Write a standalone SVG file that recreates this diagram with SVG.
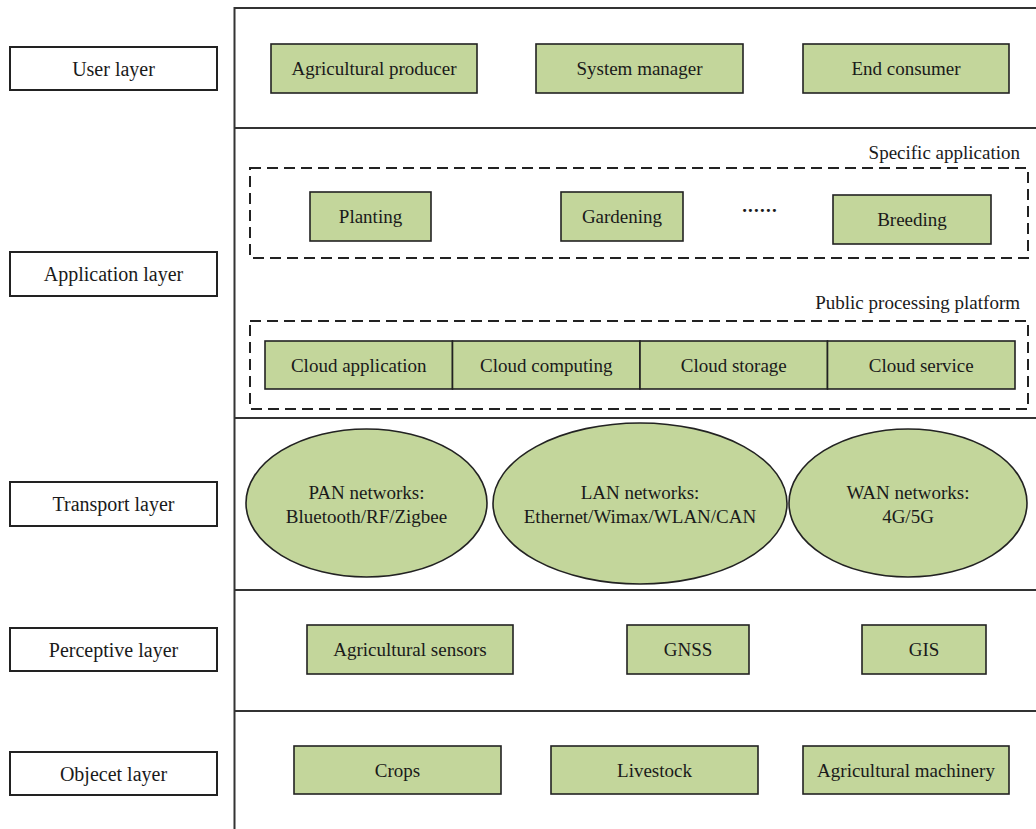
<svg xmlns="http://www.w3.org/2000/svg" width="1036" height="829" viewBox="0 0 1036 829">
<style>
  .t { font-family: "Liberation Serif", "Times New Roman", serif; font-size: 19px; fill: #1a1a1a; text-anchor: middle; }
  .lt { font-family: "Liberation Serif", "Times New Roman", serif; font-size: 20px; fill: #1a1a1a; text-anchor: middle; }
  .rt { font-family: "Liberation Serif", "Times New Roman", serif; font-size: 19px; fill: #1a1a1a; text-anchor: end; }
  .box { fill: #c3d69b; stroke: #222; stroke-width: 1.6; }
  .lbl { fill: #fff; stroke: #222; stroke-width: 2; }
  .frame { fill: none; stroke: #333; stroke-width: 2; }
  .dash { fill: none; stroke: #222; stroke-width: 2; stroke-dasharray: 11 6; }
</style>
<rect width="1036" height="829" fill="#fff"/>

<g id="frame">
  <rect class="frame" x="234.5" y="8" width="810" height="830"/>
  <line class="frame" x1="234.5" y1="128" x2="1040" y2="128"/>
  <line class="frame" x1="234.5" y1="418" x2="1040" y2="418"/>
  <line class="frame" x1="234.5" y1="590" x2="1040" y2="590"/>
  <line class="frame" x1="234.5" y1="711" x2="1040" y2="711"/>
</g>

<g id="layer-labels">
  <g id="label-user"><rect class="lbl" x="10" y="47" width="207" height="43"/><text class="lt" x="113.5" y="75.5">User layer</text></g>
  <g id="label-application"><rect class="lbl" x="10" y="252" width="207" height="44"/><text class="lt" x="113.5" y="281">Application layer</text></g>
  <g id="label-transport"><rect class="lbl" x="10" y="482" width="207" height="44"/><text class="lt" x="113.5" y="511">Transport layer</text></g>
  <g id="label-perceptive"><rect class="lbl" x="10" y="628" width="207" height="43"/><text class="lt" x="113.5" y="656.5">Perceptive layer</text></g>
  <g id="label-object"><rect class="lbl" x="10" y="752" width="207" height="43"/><text class="lt" x="113.5" y="780.5">Objecet layer</text></g>
</g>

<g id="user-layer">
  <g id="agricultural-producer"><rect class="box" x="271" y="44" width="206" height="49"/><text class="t" x="374" y="75">Agricultural producer</text></g>
  <g id="system-manager"><rect class="box" x="536" y="44" width="207" height="49"/><text class="t" x="639.5" y="75">System manager</text></g>
  <g id="end-consumer"><rect class="box" x="803" y="44" width="206" height="49"/><text class="t" x="906" y="75">End consumer</text></g>
</g>

<g id="application-layer">
  <g id="specific-application">
    <text class="rt" x="1020" y="159">Specific application</text>
    <rect class="dash" x="250" y="168" width="778" height="90"/>
    <g id="planting"><rect class="box" x="310" y="192" width="121" height="49"/><text class="t" x="370.5" y="223">Planting</text></g>
    <g id="gardening"><rect class="box" x="561" y="192" width="122" height="49"/><text class="t" x="622" y="223">Gardening</text></g>
    <text id="ellipsis" class="t" x="760" y="212" letter-spacing="1.2" font-weight="bold">......</text>
    <g id="breeding"><rect class="box" x="833" y="195" width="158" height="49"/><text class="t" x="912" y="226">Breeding</text></g>
  </g>
  <g id="public-processing-platform">
    <text class="rt" x="1020" y="309">Public processing platform</text>
    <rect class="dash" x="250" y="321" width="778" height="88"/>
    <g id="cloud-application"><rect class="box" x="265" y="341" width="187.5" height="48"/><text class="t" x="358.75" y="371.5">Cloud application</text></g>
    <g id="cloud-computing"><rect class="box" x="452.5" y="341" width="187.5" height="48"/><text class="t" x="546.25" y="371.5">Cloud computing</text></g>
    <g id="cloud-storage"><rect class="box" x="640" y="341" width="187.5" height="48"/><text class="t" x="733.75" y="371.5">Cloud storage</text></g>
    <g id="cloud-service"><rect class="box" x="827.5" y="341" width="187.5" height="48"/><text class="t" x="921.25" y="371.5">Cloud service</text></g>
  </g>
</g>

<g id="transport-layer">
  <g id="pan"><ellipse class="box" cx="366.5" cy="503" rx="120.5" ry="74"/><text class="t" x="366.5" y="499">PAN networks:</text><text class="t" x="366.5" y="523">Bluetooth/RF/Zigbee</text></g>
  <g id="lan"><ellipse class="box" cx="640" cy="503.5" rx="147" ry="80.5"/><text class="t" x="640" y="499">LAN networks:</text><text class="t" x="640" y="523">Ethernet/Wimax/WLAN/CAN</text></g>
  <g id="wan"><ellipse class="box" cx="908" cy="503" rx="119" ry="74"/><text class="t" x="908" y="499">WAN networks:</text><text class="t" x="908" y="523">4G/5G</text></g>
</g>

<g id="perceptive-layer">
  <g id="agricultural-sensors"><rect class="box" x="307" y="625" width="206" height="49"/><text class="t" x="410" y="656">Agricultural sensors</text></g>
  <g id="gnss"><rect class="box" x="627" y="625" width="122" height="49"/><text class="t" x="688" y="656">GNSS</text></g>
  <g id="gis"><rect class="box" x="862" y="625" width="124" height="49"/><text class="t" x="924" y="656">GIS</text></g>
</g>

<g id="object-layer">
  <g id="crops"><rect class="box" x="294" y="746" width="207" height="48"/><text class="t" x="397.5" y="776.5">Crops</text></g>
  <g id="livestock"><rect class="box" x="551" y="746" width="207" height="48"/><text class="t" x="654.5" y="776.5">Livestock</text></g>
  <g id="agricultural-machinery"><rect class="box" x="803" y="746" width="206" height="48"/><text class="t" x="906" y="776.5">Agricultural machinery</text></g>
</g>

<g id="connectors"></g>
</svg>
